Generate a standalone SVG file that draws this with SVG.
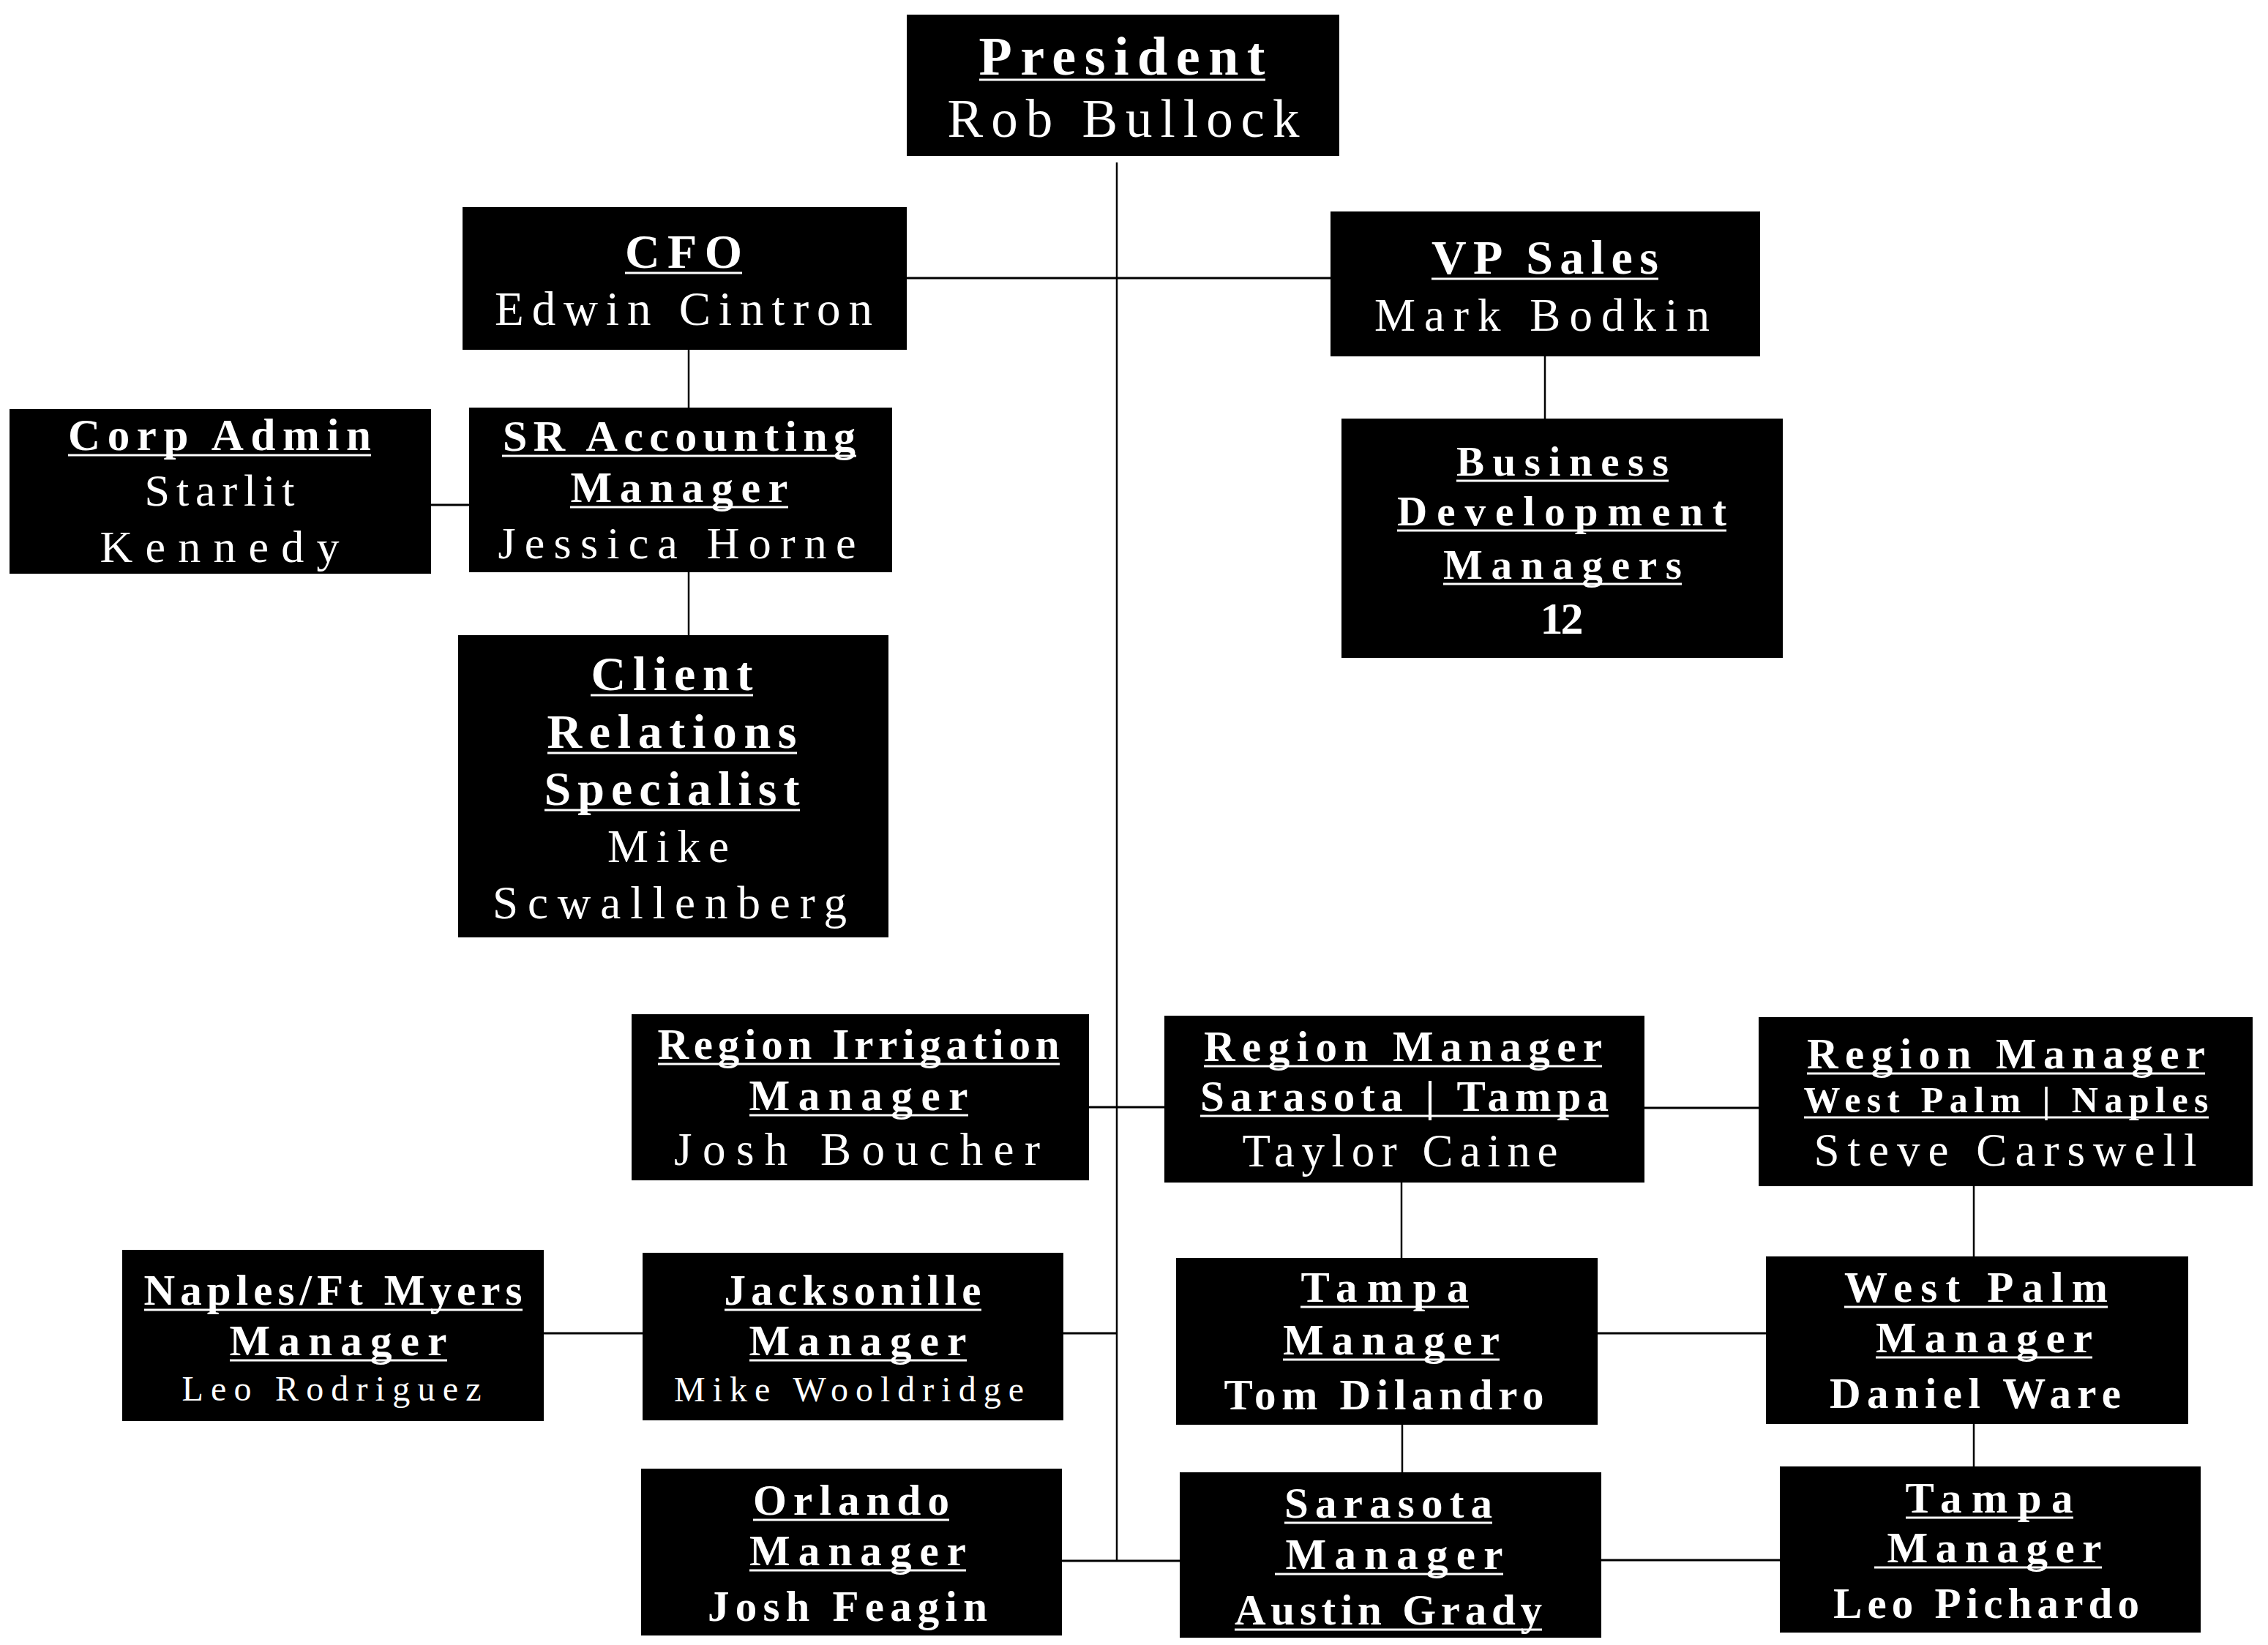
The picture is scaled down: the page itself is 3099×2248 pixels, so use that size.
<svg xmlns="http://www.w3.org/2000/svg" width="3099" height="2248" viewBox="0 0 3099 2248">
<style>
rect.box{fill:#000}
text{font-family:"Liberation Serif","Times New Roman",serif;fill:#fff;text-anchor:middle}
.t,.nb{font-weight:bold}
.u{stroke:#fff;stroke-width:3;fill:none}
.c line{stroke:#000;stroke-width:3}
.c line.v{stroke-width:2.5}
</style>
<rect width="3099" height="2248" fill="#fff"/>
<g class="c" id="connectors">
<line class="v" x1="1526" y1="222" x2="1526" y2="2133"/>
<line x1="1239" y1="380" x2="1818" y2="380"/>
<line class="v" x1="941" y1="478" x2="941" y2="557"/>
<line x1="587" y1="690" x2="642" y2="690"/>
<line class="v" x1="941" y1="782" x2="941" y2="868"/>
<line class="v" x1="2111" y1="487" x2="2111" y2="572"/>
<line x1="1488" y1="1513" x2="1591" y2="1513"/>
<line x1="2247" y1="1514" x2="2403" y2="1514"/>
<line class="v" x1="1915" y1="1616" x2="1915" y2="1719"/>
<line class="v" x1="2697" y1="1621" x2="2697" y2="1717"/>
<line x1="743" y1="1822" x2="878" y2="1822"/>
<line x1="1453" y1="1822" x2="1526" y2="1822"/>
<line x1="2183" y1="1822" x2="2413" y2="1822"/>
<line class="v" x1="1916" y1="1947" x2="1916" y2="2012"/>
<line class="v" x1="2697" y1="1946" x2="2697" y2="2004"/>
<line x1="1451" y1="2133" x2="1612" y2="2133"/>
<line x1="2188" y1="2132" x2="2432" y2="2132"/>
</g>
<g id="president">
<rect class="box" x="1239" y="20" width="591" height="193"/>
<text class="t" x="1533" y="102" font-size="74" textLength="391">President</text>
<path class="u" d="M1338 109H1729"/>
<text x="1535" y="187" font-size="73" textLength="481">Rob Bullock</text>
</g>
<g id="cfo">
<rect class="box" x="632" y="283" width="607" height="195"/>
<text class="t" x="934" y="366" font-size="66" textLength="160">CFO</text>
<path class="u" d="M854 373H1014"/>
<text x="934" y="444" font-size="65" textLength="516">Edwin Cintron</text>
</g>
<g id="vp-sales">
<rect class="box" x="1818" y="289" width="587" height="198"/>
<text class="t" x="2111" y="374" font-size="66" textLength="310">VP Sales</text>
<path class="u" d="M1956 381H2266"/>
<text x="2107" y="452" font-size="63" textLength="458">Mark Bodkin</text>
</g>
<g id="corp-admin">
<rect class="box" x="13" y="559" width="576" height="225"/>
<text class="t" x="300" y="615" font-size="61" textLength="414">Corp Admin</text>
<path class="u" d="M93 622H507"/>
<text x="300" y="691" font-size="62" textLength="205">Starlit</text>
<text x="300" y="768" font-size="62" textLength="327">Kennedy</text>
</g>
<g id="sr-accounting">
<rect class="box" x="641" y="557" width="578" height="225"/>
<text class="t" x="928" y="616" font-size="60" textLength="482">SR Accounting</text>
<path class="u" d="M686 623H1170"/>
<text class="t" x="928" y="686" font-size="60" textLength="297">Manager</text>
<path class="u" d="M779 693H1077"/>
<text x="925" y="763" font-size="62" textLength="489">Jessica Horne</text>
</g>
<g id="client-relations">
<rect class="box" x="626" y="868" width="588" height="413"/>
<text class="t" x="918" y="943" font-size="66" textLength="221">Client</text>
<path class="u" d="M807 950H1029"/>
<text class="t" x="918" y="1022" font-size="66" textLength="341">Relations</text>
<path class="u" d="M748 1029H1089"/>
<text class="t" x="918" y="1100" font-size="66" textLength="349">Specialist</text>
<path class="u" d="M744 1107H1093"/>
<text x="913" y="1178" font-size="63" textLength="166">Mike</text>
<text x="915" y="1255" font-size="63" textLength="484">Scwallenberg</text>
</g>
<g id="business-development">
<rect class="box" x="1833" y="572" width="603" height="327"/>
<text class="t" x="2135" y="650" font-size="57" textLength="290">Business</text>
<path class="u" d="M1990 657H2280"/>
<text class="t" x="2134" y="718" font-size="57" textLength="450">Development</text>
<path class="u" d="M1909 725H2359"/>
<text class="t" x="2135" y="791" font-size="57" textLength="326">Managers</text>
<path class="u" d="M1972 798H2298"/>
<text class="nb" x="2134" y="866" font-size="62" textLength="59">12</text>
</g>
<g id="region-irrigation">
<rect class="box" x="863" y="1386" width="625" height="227"/>
<text class="t" x="1173" y="1447" font-size="59" textLength="549">Region Irrigation</text>
<path class="u" d="M899 1454H1448"/>
<text class="t" x="1173" y="1517" font-size="59" textLength="299">Manager</text>
<path class="u" d="M1024 1524H1323"/>
<text x="1171" y="1592" font-size="63" textLength="500">Josh Boucher</text>
</g>
<g id="region-sarasota-tampa">
<rect class="box" x="1591" y="1388" width="656" height="228"/>
<text class="t" x="1917" y="1450" font-size="59" textLength="544">Region Manager</text>
<path class="u" d="M1645 1457H2189"/>
<text class="t" x="1919" y="1518" font-size="59" textLength="558">Sarasota | Tampa</text>
<path class="u" d="M1640 1525H2198"/>
<text x="1913" y="1594" font-size="63" textLength="431">Taylor Caine</text>
</g>
<g id="region-westpalm-naples">
<rect class="box" x="2403" y="1390" width="675" height="231"/>
<text class="t" x="2741" y="1460" font-size="59" textLength="544">Region Manager</text>
<path class="u" d="M2469 1467H3013"/>
<text class="t" x="2741" y="1520" font-size="50" textLength="553">West Palm | Naples</text>
<path class="u" d="M2465 1527H3018"/>
<text x="2740" y="1593" font-size="63" textLength="523">Steve Carswell</text>
</g>
<g id="naples-ftmyers">
<rect class="box" x="167" y="1708" width="576" height="234"/>
<text class="t" x="455" y="1783" font-size="59" textLength="517">Naples/Ft Myers</text>
<path class="u" d="M197 1790H714"/>
<text class="t" x="462" y="1852" font-size="59" textLength="297">Manager</text>
<path class="u" d="M314 1859H611"/>
<text x="453" y="1914" font-size="48" textLength="409">Leo Rodriguez</text>
</g>
<g id="jacksonille">
<rect class="box" x="878" y="1712" width="575" height="229"/>
<text class="t" x="1165" y="1783" font-size="59" textLength="351">Jacksonille</text>
<path class="u" d="M990 1790H1341"/>
<text class="t" x="1172" y="1852" font-size="59" textLength="297">Manager</text>
<path class="u" d="M1024 1859H1321"/>
<text x="1160" y="1915" font-size="48" textLength="478">Mike Wooldridge</text>
</g>
<g id="orlando">
<rect class="box" x="876" y="2007" width="575" height="228"/>
<text class="t" x="1163" y="2070" font-size="59" textLength="268">Orlando</text>
<path class="u" d="M1029 2077H1297"/>
<text class="t" x="1172" y="2139" font-size="59" textLength="296">Manager</text>
<path class="u" d="M1024 2146H1320"/>
<text class="nb" x="1158" y="2215" font-size="59" textLength="382">Josh Feagin</text>
</g>
<g id="tampa-dilandro">
<rect class="box" x="1607" y="1719" width="576" height="228"/>
<text class="t" x="1892" y="1779" font-size="59" textLength="229">Tampa</text>
<path class="u" d="M1777 1786H2007"/>
<text class="t" x="1901" y="1851" font-size="59" textLength="296">Manager</text>
<path class="u" d="M1753 1858H2049"/>
<text class="nb" x="1891" y="1926" font-size="59" textLength="437">Tom Dilandro</text>
</g>
<g id="westpalm-ware">
<rect class="box" x="2413" y="1717" width="577" height="229"/>
<text class="t" x="2700" y="1779" font-size="59" textLength="360">West Palm</text>
<path class="u" d="M2520 1786H2880"/>
<text class="t" x="2711" y="1848" font-size="59" textLength="296">Manager</text>
<path class="u" d="M2563 1855H2859"/>
<text class="nb" x="2699" y="1924" font-size="59" textLength="398">Daniel Ware</text>
</g>
<g id="sarasota-grady">
<rect class="box" x="1612" y="2012" width="576" height="226"/>
<text class="t" x="1897" y="2074" font-size="59" textLength="284">Sarasota</text>
<path class="u" d="M1755 2081H2039"/>
<text class="t" x="1905" y="2144" font-size="59" textLength="297">Manager</text>
<path class="u" d="M1742 2151H2054"/>
<text class="t" x="1897" y="2220" font-size="59" textLength="420">Austin Grady</text>
<path class="u" d="M1687 2227H2107"/>
</g>
<g id="tampa-pichardo">
<rect class="box" x="2432" y="2004" width="575" height="227"/>
<text class="t" x="2718" y="2067" font-size="59" textLength="229">Tampa</text>
<path class="u" d="M2604 2074H2833"/>
<text class="t" x="2725" y="2135" font-size="59" textLength="293">Manager</text>
<path class="u" d="M2561 2142H2872"/>
<text class="nb" x="2714" y="2211" font-size="59" textLength="418">Leo Pichardo</text>
</g>
</svg>
